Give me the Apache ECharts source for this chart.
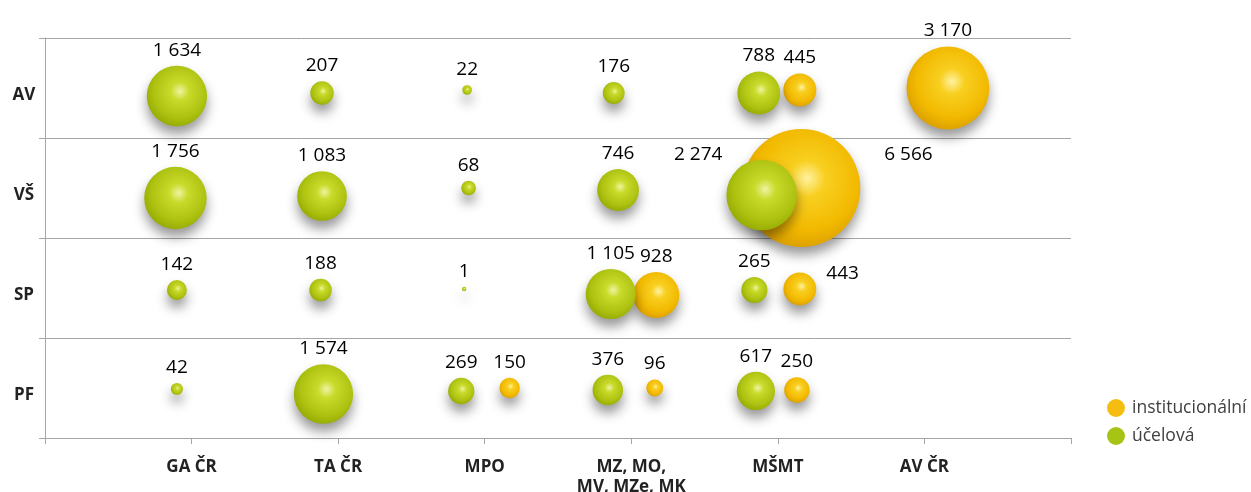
<!DOCTYPE html>
<html>
<head>
<meta charset="utf-8">
<script src="https://cdn.jsdelivr.net/npm/echarts@6/dist/echarts.min.js"></script>
<style>
html,body{margin:0;padding:0;background:#fff;}
#chart{width:1251px;height:492px;}
</style>
</head>
<body>
<div id="chart"></div>
<script>
// ---- data ----
const xCategories = ['GA ČR', 'TA ČR', 'MPO', 'MZ, MO,\nMV, MZe, MK', 'MŠMT', 'AV ČR'];
const yCategories = ['AV', 'VŠ', 'SP', 'PF'];

// účelová (green) bubbles: x position, y position (row units from top), value
const ucelovaX = [0.90, 1.89, 2.88, 3.88, 4.87,  0.89, 1.89, 2.89, 3.91, 4.89,  0.90, 1.88, 2.86, 3.86, 4.84,  0.90, 1.90, 2.84, 3.84, 4.85];
const ucelovaY = [0.58, 0.55, 0.52, 0.55, 0.55,  1.60, 1.58, 1.50, 1.52, 1.57,  2.52, 2.52, 2.51, 2.56, 2.52,  3.51, 3.56, 3.53, 3.52, 3.53];
const ucelovaValues = [1634, 207, 22, 176, 788,  1756, 1083, 68, 746, 2274,  142, 188, 1, 1105, 265,  42, 1574, 269, 376, 617];

// institucionální (orange) bubbles
const instX = [5.15, 6.16,  5.16,  4.17, 5.15,  3.17, 4.16, 5.13];
const instY = [0.52, 0.50,  1.50,  2.57, 2.51,  3.50, 3.50, 3.52];
const instValues = [445, 3170,  6566,  928, 443,  150, 96, 250];

const seriesNames = ['institucionální', 'účelová'];

// ---- helpers ----
const maxValue = Math.max(...ucelovaValues, ...instValues);
function bubbleSize(d) { return 3 + 115 * Math.sqrt(d[2] / maxValue); }
function fmt(v) { return String(v).replace(/\B(?=(\d{3})+(?!\d))/g, ' '); }

// label placement overrides (style only)
const labelOverrides = {
  'u-9': { position: 'left', offset: [4, -40], distance: 8 },
  'i-2': { position: 'right', offset: [0, -33], distance: 24 },
  'i-4': { position: 'right', offset: [0, -15], distance: 10 }
};

function buildData(xs, ys, vs, key) {
  return xs.map((x, i) => {
    const item = { value: [x, ys[i], vs[i]] };
    const o = labelOverrides[key + '-' + i];
    if (o) item.label = o;
    return item;
  });
}

const FONT = '"Open Sans", "Noto Sans", sans-serif';

const greenGrad = {
  type: 'radial', x: 0.55, y: 0.42, r: 0.62,
  colorStops: [
    { offset: 0, color: '#eef4a0' },
    { offset: 0.25, color: '#c8da2a' },
    { offset: 0.7, color: '#aec211' },
    { offset: 1, color: '#93a800' }
  ]
};
const orangeGrad = {
  type: 'radial', x: 0.55, y: 0.42, r: 0.62,
  colorStops: [
    { offset: 0, color: '#fff1a0' },
    { offset: 0.25, color: '#f8cf20' },
    { offset: 0.7, color: '#f2b900' },
    { offset: 1, color: '#d99c00' }
  ]
};

const baseLabel = {
  show: true,
  position: 'top',
  distance: 6,
  color: '#000',
  fontSize: 19,
  fontFamily: FONT,
  formatter: p => fmt(p.value[2])
};

const chart = echarts.init(document.getElementById('chart'), null, { renderer: 'canvas' });

chart.setOption({
  animation: false,
  backgroundColor: '#fff',
  grid: { left: 45, right: 180, top: 38, bottom: 54, containLabel: false, outerBoundsMode: 'none' },
  xAxis: {
    type: 'value', min: 0, max: 7, interval: 1,
    axisLine: { show: true, onZero: false, lineStyle: { color: '#a6a6a6', width: 1 } },
    axisTick: { show: true, length: 6, lineStyle: { color: '#a6a6a6' } },
    splitLine: { show: false },
    axisLabel: {
      margin: 19,
      fontFamily: FONT, fontWeight: 'bold', fontSize: 17, color: '#222',
      lineHeight: 20,
      formatter: v => (v >= 1 && v <= xCategories.length) ? xCategories[v - 1] : ''
    }
  },
  yAxis: [
    {
      type: 'value', min: 0, max: 4, interval: 1, inverse: true,
      axisLine: { show: true, onZero: false, lineStyle: { color: '#a6a6a6', width: 1 } },
      axisTick: { show: true, length: 6, lineStyle: { color: '#a6a6a6' } },
      splitLine: { show: true, lineStyle: { color: '#a6a6a6', width: 1 } },
      axisLabel: { show: false }
    },
    {
      type: 'category', data: yCategories, inverse: true, position: 'left',
      axisLine: { show: false }, axisTick: { show: false }, splitLine: { show: false },
      axisLabel: {
        margin: 21, align: 'center', verticalAlign: 'top',
        lineHeight: 14,
        fontFamily: FONT, fontWeight: 'bold', fontSize: 17, color: '#222'
      }
    }
  ],
  legend: {
    orient: 'vertical', left: 1102, top: 394,
    icon: 'circle', itemWidth: 18, itemHeight: 18, itemGap: 10,
    textStyle: { fontFamily: FONT, fontSize: 17.5, color: '#404040', padding: [0, 0, 0, 2] },
    data: [
      { name: seriesNames[0], itemStyle: { color: '#f4bd10' } },
      { name: seriesNames[1], itemStyle: { color: '#a6c414' } }
    ]
  },
  series: [
    {
      name: seriesNames[0], type: 'scatter', yAxisIndex: 0,
      symbol: 'circle', symbolSize: bubbleSize,
      itemStyle: { color: orangeGrad, opacity: 1, shadowColor: 'rgba(0,0,0,0.4)', shadowBlur: 12, shadowOffsetY: 8 },
      label: baseLabel,
      data: buildData(instX, instY, instValues, 'i')
    },
    {
      name: seriesNames[1], type: 'scatter', yAxisIndex: 0,
      symbol: 'circle', symbolSize: bubbleSize,
      itemStyle: { color: greenGrad, opacity: 1, shadowColor: 'rgba(0,0,0,0.4)', shadowBlur: 12, shadowOffsetY: 8 },
      label: baseLabel,
      data: buildData(ucelovaX, ucelovaY, ucelovaValues, 'u')
    }
  ]
});
</script>
</body>
</html>
